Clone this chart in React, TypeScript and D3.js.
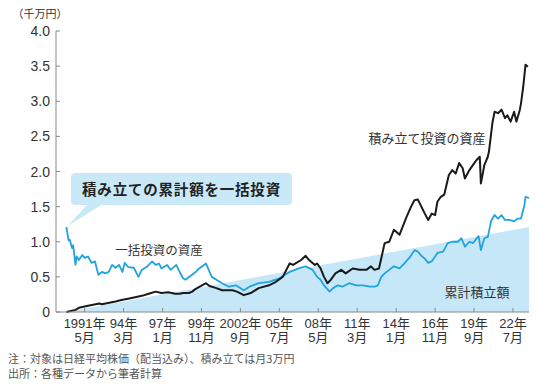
import React from "react";
import * as d3 from "d3";

// 一括投資の資産 (千万円)
const lumpSumDates = [
  "1990-01","1990-03","1990-04","1990-06","1990-07","1990-09","1990-10","1990-12","1991-03","1991-05",
  "1991-08","1991-11","1992-02","1992-05","1992-08","1992-11","1993-02","1993-05","1993-08","1993-11",
  "1994-02","1994-04","1994-07","1994-12","1995-04","1995-07","1995-11","1996-04","1996-07","1996-10",
  "1996-12","1997-05","1997-08","1998-01","1998-04","1998-07","1998-09","1999-06","1999-09","2000-03",
  "2000-08","2001-05","2001-11","2002-05","2002-12","2003-05","2004-01","2004-10","2005-07","2006-04",
  "2006-12","2007-06","2007-12","2008-04","2008-07","2008-10","2009-03","2009-06","2009-10","2010-02",
  "2010-08","2011-02","2011-08","2012-02","2012-06","2012-09","2012-12","2013-03","2013-07","2013-11",
  "2014-04","2014-08","2015-01","2015-05","2015-08","2015-11","2016-02","2016-05","2016-08","2016-11",
  "2017-01","2017-06","2017-10","2018-02","2018-07","2018-10","2019-01","2019-05","2019-08","2020-01",
  "2020-03","2020-06","2020-09","2020-12","2021-03","2021-06","2021-09","2021-12","2022-04","2022-08",
  "2022-11","2023-02","2023-05","2023-06","2023-09"
];
const lumpSumValues = [
  1.21,1.02,1.03,0.91,0.95,0.67,0.79,0.74,0.81,0.77,
  0.79,0.70,0.72,0.53,0.57,0.55,0.57,0.67,0.63,0.67,
  0.57,0.70,0.64,0.63,0.50,0.60,0.64,0.72,0.67,0.69,
  0.62,0.67,0.60,0.67,0.57,0.48,0.46,0.57,0.62,0.69,
  0.50,0.41,0.36,0.38,0.31,0.36,0.41,0.43,0.48,0.57,
  0.62,0.65,0.60,0.50,0.46,0.38,0.29,0.34,0.38,0.36,
  0.41,0.38,0.38,0.36,0.36,0.38,0.50,0.55,0.60,0.65,
  0.62,0.69,0.78,0.88,0.86,0.80,0.76,0.70,0.72,0.79,
  0.84,0.86,0.98,1.00,1.00,1.05,0.93,1.00,0.98,1.08,
  0.88,1.05,1.07,1.30,1.38,1.33,1.38,1.31,1.31,1.29,
  1.33,1.33,1.52,1.64,1.62
];

// 積み立て投資の資産 (千万円)
const dcaDates = [
  "1990-01","1990-09","1990-12","1991-08","1992-06","1992-08","1993-08","1994-01","1994-07","1995-01",
  "1995-07","1996-01","1996-07","1996-12","1997-06","1997-12","1998-04","1998-07","1998-12","1999-03",
  "1999-06","2000-03","2000-06","2000-12","2001-05","2002-02","2002-06","2002-12","2003-06","2004-01",
  "2004-10","2005-04","2005-10","2006-04","2006-07","2007-02","2007-06","2007-09","2008-02","2008-04",
  "2008-07","2008-10","2009-01","2009-04","2009-08","2010-01","2010-05","2010-11","2011-05","2011-11",
  "2012-03","2012-06","2012-10","2013-03","2013-07","2013-11","2014-04","2014-10","2015-02","2015-05",
  "2015-08","2015-11","2016-02","2016-05","2016-08","2016-11","2017-01","2017-04","2017-07","2017-09",
  "2017-11","2018-02","2018-05","2018-08","2018-11","2019-01","2019-05","2019-08","2019-11","2020-02",
  "2020-03","2020-06","2020-09","2020-10","2021-01","2021-03","2021-06","2021-09","2021-12","2022-02",
  "2022-05","2022-08","2022-10","2023-01","2023-02","2023-04","2023-06","2023-08"
];
const dcaValues = [
  0.00,0.03,0.06,0.09,0.12,0.11,0.15,0.17,0.19,0.21,
  0.23,0.26,0.29,0.27,0.28,0.26,0.26,0.27,0.27,0.29,
  0.33,0.41,0.37,0.34,0.31,0.31,0.29,0.24,0.27,0.34,
  0.38,0.43,0.50,0.69,0.67,0.74,0.80,0.74,0.67,0.69,
  0.62,0.50,0.41,0.46,0.55,0.60,0.55,0.62,0.60,0.60,
  0.65,0.60,0.62,0.98,1.00,1.17,1.10,1.35,1.50,1.59,
  1.60,1.50,1.40,1.31,1.40,1.38,1.57,1.64,1.67,1.81,
  1.95,2.02,1.97,2.12,2.05,1.90,2.02,2.09,2.16,2.21,
  1.83,2.09,2.21,2.28,2.69,2.85,2.83,2.88,2.76,2.80,
  2.71,2.85,2.71,2.88,2.97,3.21,3.52,3.49
];

// 累計積立額 (千万円)
const cumulativeDates = ["1990-01", "2023-09"];
const cumulativeValues = [0, 1.21];

const yTicks = [0, 0.5, 1.0, 1.5, 2.0, 2.5, 3.0, 3.5, 4.0];
const yTickLabels = ["0", "0.5", "1.0", "1.5", "2.0", "2.5", "3.0", "3.5", "4.0"];

const xTickDates = [
  "1991-05","1994-03","1997-01","1999-11","2002-09","2005-07",
  "2008-05","2011-03","2014-01","2016-11","2019-09","2022-07"
];
const xTickYears = ["1991年","94年","97年","99年","2002年","05年","08年","11年","14年","16年","19年","22年"];
const xTickMonths = ["5月","3月","1月","11月","9月","7月","5月","3月","1月","11月","9月","7月"];

const parse = d3.timeParse("%Y-%m");

const FONT = "'Liberation Sans', 'Noto Sans CJK JP', sans-serif";
const JP = "'Noto Sans CJK JP', sans-serif";

export default function App() {
  const W = 550, H = 392;
  const x = d3.scaleTime()
    .domain([parse("1989-04")!, parse("2023-09")!])
    .range([56, 529]);
  const y = d3.scaleLinear().domain([0, 4]).range([312, 31]);

  const lump = lumpSumDates.map((d, i) => ({ date: parse(d)!, v: lumpSumValues[i] }));
  const dca = dcaDates.map((d, i) => ({ date: parse(d)!, v: dcaValues[i] }));
  const cum = cumulativeDates.map((d, i) => ({ date: parse(d)!, v: cumulativeValues[i] }));

  const line = d3.line<{ date: Date; v: number }>()
    .x((d) => x(d.date))
    .y((d) => y(d.v));
  const area = d3.area<{ date: Date; v: number }>()
    .x((d) => x(d.date))
    .y0(y(0))
    .y1((d) => y(d.v));

  const start = lump[0];
  const sx = x(start.date), sy = y(start.v);

  return (
    <svg width={W} height={H} style={{ position: "absolute", left: 0, top: 0, background: "#fff" }}>
      <path d={area(cum) || ""} fill="#c6e7f8" />

      {/* callout */}
      <rect x={71} y={173} width={221} height={32} rx={4} fill="#c9e8f8" />
      <path d={`M88,204 L103,204 L${sx + 1},${sy - 1} Z`} fill="#c9e8f8" />
      <text x={181.5} y={194.5} textAnchor="middle" fontFamily={JP} fontWeight="bold" fontSize={14.5}
        fill="#222" letterSpacing={0.8}>積み立ての累計額を一括投資</text>

      <path d={line(lump) || ""} fill="none" stroke="#22a3dd" strokeWidth={1.8} strokeLinejoin="round" />
      <path d={line(dca) || ""} fill="none" stroke="#1a1a1a" strokeWidth={2} strokeLinejoin="round" />

      {/* y axis */}
      <line x1={56} x2={56} y1={y(4)} y2={y(0)} stroke="#888" strokeWidth={1} />
      {yTicks.map((t, i) => (
        <g key={t}>
          <line x1={56} x2={60} y1={y(t)} y2={y(t)} stroke="#888" />
          <text x={50} y={y(t) + 5} textAnchor="end" fontFamily={FONT} fontSize={14} fill="#333">
            {yTickLabels[i]}
          </text>
        </g>
      ))}
      <text x={40} y={18} textAnchor="middle" fontFamily={JP} fontSize={11} fill="#333">（千万円）</text>

      {/* x axis */}
      <line x1={56} x2={529} y1={y(0)} y2={y(0)} stroke="#888" strokeWidth={1} />
      {xTickDates.map((d, i) => {
        const px = x(parse(d)!);
        return (
          <g key={d}>
            <line x1={px} x2={px} y1={y(0)} y2={y(0) - 4} stroke="#888" />
            <text x={px} y={328} textAnchor="middle" fontFamily={FONT} fontSize={13} fill="#333">
              {xTickYears[i]}
            </text>
            <text x={px} y={342} textAnchor="middle" fontFamily={FONT} fontSize={13} fill="#333">
              {xTickMonths[i]}
            </text>
          </g>
        );
      })}

      {/* labels */}
      <text x={159} y={255} textAnchor="middle" fontFamily={JP} fontSize={12.5} fill="#333">一括投資の資産</text>
      <text x={427} y={143} textAnchor="middle" fontFamily={JP} fontSize={13} fill="#333">積み立て投資の資産</text>
      <text x={477} y={297} textAnchor="middle" fontFamily={JP} fontSize={13} fill="#333">累計積立額</text>

      {/* notes */}
      <text x={8} y={363} fontFamily={JP} fontSize={11} fill="#555">注：対象は日経平均株価（配当込み）、積み立ては月3万円</text>
      <text x={8} y={378} fontFamily={JP} fontSize={11} fill="#555">出所：各種データから筆者計算</text>
    </svg>
  );
}
